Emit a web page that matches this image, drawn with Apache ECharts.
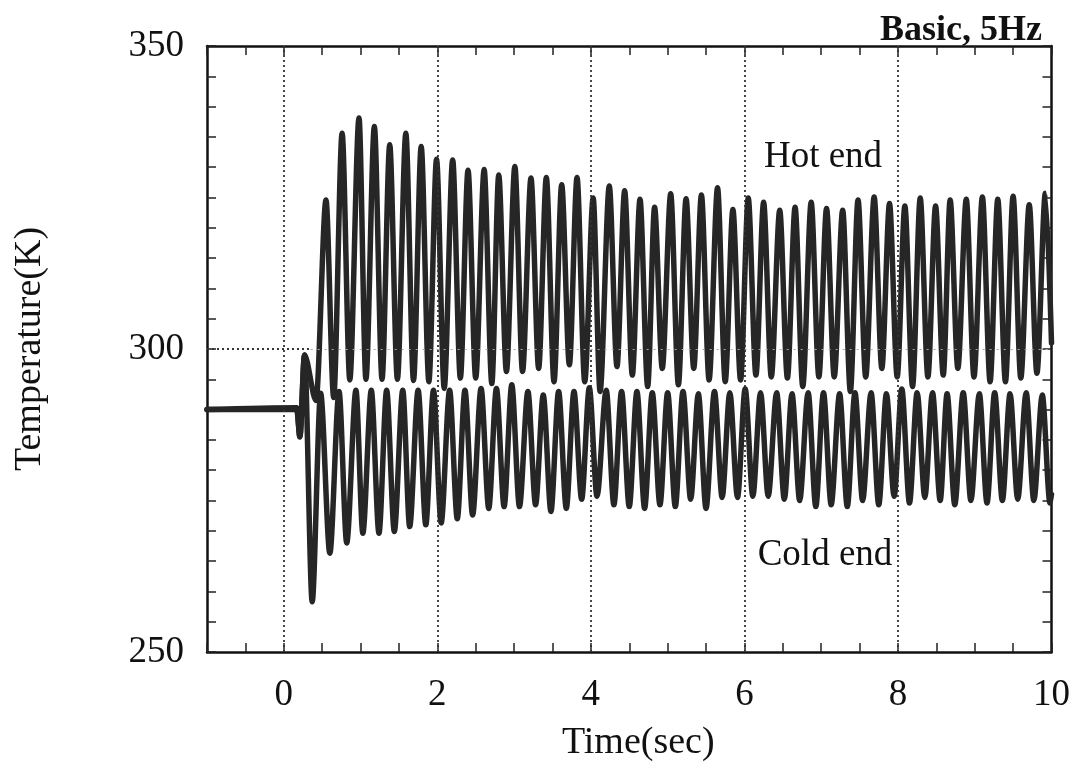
<!DOCTYPE html>
<html><head><meta charset="utf-8">
<script src="https://cdn.jsdelivr.net/npm/echarts@6/dist/echarts.min.js"></script>
<style>html,body{margin:0;padding:0;background:#fff}#c{width:1073px;height:769px}</style>
</head><body><div id="c"></div>
<script>
const xEvenLabels = [0, 2, 4, 6, 8, 10];
const yTickLabels = [250, 300, 350];
const gridTimes = [0, 2, 4, 6, 8];

const hotTime = [-1, 0.17, 0.21, 0.27, 0.42,
  0.55, 0.65, 0.76, 0.86, 0.98, 1.07, 1.18, 1.28, 1.38, 1.48, 1.59, 1.69, 1.79, 1.89, 1.99, 2.09,
  2.20, 2.30, 2.40, 2.50, 2.61, 2.71, 2.80, 2.90, 3.01, 3.11, 3.22, 3.32, 3.42, 3.52, 3.62, 3.72,
  3.82, 3.92, 4.03, 4.12, 4.24, 4.34, 4.44, 4.54, 4.64, 4.74, 4.83, 4.93, 5.04, 5.14, 5.24, 5.34,
  5.44, 5.54, 5.65, 5.75, 5.85, 5.95, 6.05, 6.15, 6.25, 6.35, 6.46, 6.56, 6.66, 6.76, 6.87, 6.97,
  7.07, 7.17, 7.28, 7.38, 7.48, 7.58, 7.69, 7.79, 7.89, 7.99, 8.09, 8.19, 8.29, 8.39, 8.49, 8.59,
  8.68, 8.78, 8.89, 8.99, 9.10, 9.20, 9.30, 9.40, 9.50, 9.60, 9.71, 9.81, 9.92, 10.0];
const hotTemp = [290.0, 290.3, 285.5, 299.0, 291.5,
  324.6, 292.0, 335.6, 294.9, 338.1, 295.0, 336.7, 295.0, 333.7, 295.0, 335.6, 294.8, 333.4, 294.6, 331.3, 293.5,
  331.2, 295.2, 329.5, 295.2, 329.6, 294.3, 328.7, 296.3, 330.1, 296.3, 328.2, 296.8, 328.3, 294.6, 327.1, 297.4,
  328.3, 294.6, 324.9, 293.0, 326.9, 297.1, 326.1, 295.7, 324.7, 293.8, 323.4, 296.8, 325.6, 294.1, 324.8, 296.8,
  325.4, 294.9, 326.6, 294.6, 323.0, 294.9, 324.9, 295.7, 324.2, 295.4, 322.9, 295.2, 323.4, 293.8, 324.2, 295.4,
  323.2, 295.4, 322.9, 293.0, 324.6, 295.4, 325.1, 296.8, 324.0, 295.4, 323.6, 293.8, 324.9, 295.4, 323.6, 295.7,
  324.6, 296.8, 324.7, 295.4, 325.1, 294.6, 324.7, 294.6, 325.2, 295.2, 323.8, 296.0, 325.7, 301.0];

const coldTime = [-1, 0.17, 0.21, 0.27, 0.37,
  0.48, 0.60, 0.72, 0.82, 0.94, 1.03, 1.14, 1.24, 1.34, 1.44, 1.55, 1.64, 1.75, 1.85, 1.95, 2.05,
  2.16, 2.26, 2.36, 2.46, 2.57, 2.67, 2.77, 2.87, 2.97, 3.07, 3.18, 3.28, 3.38, 3.48, 3.58, 3.68,
  3.78, 3.88, 3.98, 4.08, 4.20, 4.30, 4.40, 4.50, 4.60, 4.70, 4.80, 4.90, 5.00, 5.10, 5.20, 5.30,
  5.40, 5.50, 5.61, 5.71, 5.81, 5.91, 6.01, 6.11, 6.21, 6.31, 6.42, 6.52, 6.62, 6.72, 6.83, 6.93,
  7.03, 7.13, 7.24, 7.34, 7.44, 7.54, 7.65, 7.75, 7.85, 7.95, 8.05, 8.15, 8.25, 8.35, 8.45, 8.55,
  8.64, 8.74, 8.85, 8.95, 9.06, 9.16, 9.26, 9.36, 9.46, 9.56, 9.67, 9.77, 9.88, 9.98, 10.0];
const coldTemp = [290.0, 290.0, 285.5, 299.0, 258.3,
  292.7, 266.3, 293.0, 268.0, 293.2, 269.6, 293.2, 269.6, 293.2, 269.9, 293.2, 270.7, 293.2, 271.0, 293.2, 271.3,
  293.2, 272.0, 293.2, 272.6, 293.5, 273.7, 293.5, 274.0, 294.1, 274.0, 293.0, 274.3, 292.4, 273.2, 293.0, 273.7,
  293.0, 275.2, 293.6, 275.7, 293.2, 274.3, 293.0, 274.0, 293.0, 273.7, 292.8, 274.3, 292.8, 274.0, 293.0, 275.2,
  292.6, 273.7, 293.0, 275.5, 292.8, 275.5, 293.4, 275.7, 292.8, 275.7, 292.8, 275.2, 292.6, 275.0, 292.8, 274.0,
  292.8, 274.3, 292.6, 274.0, 292.8, 275.0, 292.8, 274.3, 292.6, 275.7, 293.4, 274.6, 292.8, 275.5, 292.8, 275.0,
  292.6, 274.3, 292.8, 275.0, 292.6, 274.6, 292.8, 275.0, 292.6, 275.2, 292.8, 275.0, 292.4, 274.6, 276.0];

const FONT = '"Liberation Serif", "Times New Roman", serif';
const INK = '#111';
const LINE = '#262626';

const hotData = hotTime.map((t, i) => [t, hotTemp[i]]);
const coldData = coldTime.map((t, i) => [t, coldTemp[i]]);

const chart = echarts.init(document.getElementById('c'), null, {renderer: 'canvas'});

const frameLine = {show: true, onZero: false, lineStyle: {color: '#111', width: 2.5}};
const tickStyle = {show: true, inside: true, length: 9, lineStyle: {color: '#222', width: 1.5}};
const minorStyle = {color: '#222', width: 1.5};

chart.setOption({
  animation: false,
  backgroundColor: '#ffffff',
  title: {
    text: 'Basic, 5Hz', right: 26, top: 8,
    textStyle: {fontFamily: FONT, fontWeight: 'bold', fontSize: 36, color: INK}
  },
  grid: {left: 207, right: 21, top: 46, bottom: 117},
  xAxis: [{
    type: 'value', min: -1, max: 10, interval: 1, position: 'bottom',
    axisLine: frameLine,
    axisTick: tickStyle,
    minorTick: {show: true, splitNumber: 2, length: 9, lineStyle: minorStyle},
    splitLine: {show: false},
    axisLabel: {
      margin: 25, fontFamily: FONT, fontSize: 37, color: INK,
      formatter: v => (xEvenLabels.indexOf(v) >= 0 ? String(v) : '')
    },
    name: 'Time(sec)', nameLocation: 'middle', nameGap: 72,
    nameTextStyle: {fontFamily: FONT, fontSize: 38, color: INK, padding: [0, 0, 0, 18]}
  }, {
    type: 'value', min: -1, max: 10, interval: 1, position: 'top',
    axisLine: frameLine,
    axisTick: tickStyle,
    minorTick: {show: true, splitNumber: 2, length: 9, lineStyle: minorStyle},
    splitLine: {show: false},
    axisLabel: {show: false}
  }],
  yAxis: [{
    type: 'value', min: 250, max: 350, interval: 50, position: 'left',
    axisLine: frameLine,
    axisTick: tickStyle,
    minorTick: {show: true, splitNumber: 10, length: 9, lineStyle: minorStyle},
    splitLine: {show: false},
    axisLabel: {
      margin: 23, fontFamily: FONT, fontSize: 37, color: INK,
      formatter: v => (yTickLabels.indexOf(v) >= 0 ? String(v) : '')
    },
    name: 'Temperature(K)', nameLocation: 'middle', nameGap: 158,
    nameTextStyle: {fontFamily: FONT, fontSize: 38, color: INK}
  }, {
    type: 'value', min: 250, max: 350, interval: 50, position: 'right',
    axisLine: frameLine,
    axisTick: tickStyle,
    minorTick: {show: true, splitNumber: 10, length: 9, lineStyle: minorStyle},
    splitLine: {show: false},
    axisLabel: {show: false}
  }],
  graphic: [
    {type: 'text', x: 823, y: 157, z: 100,
     style: {text: 'Hot end', font: '37px ' + FONT, fill: INK, align: 'center', verticalAlign: 'middle'}},
    {type: 'text', x: 825, y: 555, z: 100,
     style: {text: 'Cold end', font: '37px ' + FONT, fill: INK, align: 'center', verticalAlign: 'middle'}}
  ],
  series: [{
    name: 'Grid', type: 'line', data: [], z: 1,
    markLine: {
      silent: true, symbol: ['none', 'none'], label: {show: false},
      lineStyle: {color: '#333', width: 1.8, type: [2, 3]},
      data: gridTimes.map(t => ({xAxis: t})).concat([
        [{coord: [-1, 300]}, {coord: [0.35, 300]}],
        [{coord: [0.35, 300], lineStyle: {color: '#aaa', width: 1.2, type: [2, 5]}}, {coord: [10, 300]}]
      ])
    }
  }, {
    name: 'Hot end', type: 'line', data: hotData, showSymbol: false, z: 3,
    smooth: 0.3, smoothMonotone: 'x',
    lineStyle: {color: LINE, width: 5.5, join: 'round', cap: 'round'}
  }, {
    name: 'Cold end', type: 'line', data: coldData, showSymbol: false, z: 3,
    smooth: 0.3, smoothMonotone: 'x',
    lineStyle: {color: LINE, width: 5.5, join: 'round', cap: 'round'}
  }]
});
</script>
</body></html>
